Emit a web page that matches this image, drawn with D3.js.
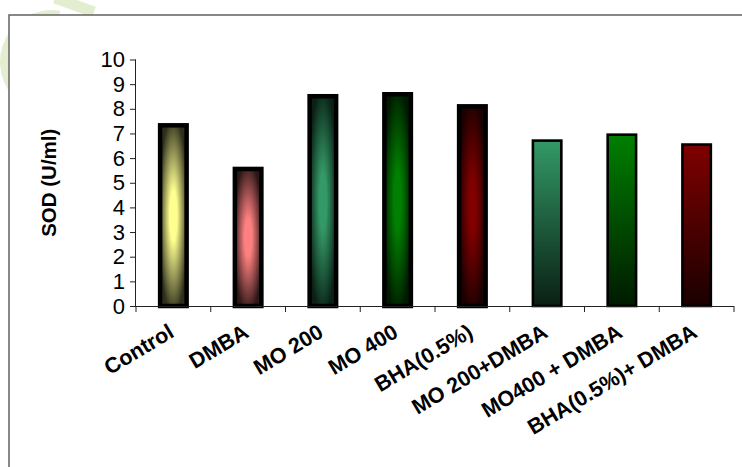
<!DOCTYPE html>
<html>
<head>
<meta charset="utf-8">
<script src="https://cdn.jsdelivr.net/npm/d3@7"></script>
<style>
  html, body { margin: 0; padding: 0; background: #ffffff; overflow: hidden; }
  svg { display: block; }
  text { font-family: "Liberation Sans", Arial, sans-serif; fill: #000; }
</style>
</head>
<body>
<script>
// ---- data ----
const categories = ["Control", "DMBA", "MO 200", "MO 400", "BHA(0.5%)", "MO 200+DMBA", "MO400 + DMBA", "BHA(0.5%)+ DMBA"];
const values = [7.33, 5.56, 8.51, 8.59, 8.10, 6.71, 6.95, 6.55];
const yTicks = [0, 1, 2, 3, 4, 5, 6, 7, 8, 9, 10];
const yLabel = "SOD (U/ml)";
// fill styles per bar
const lightColors = ["#ffff90", "#ff8080", "#339966", "#008000", "#800000", "#339966", "#008000", "#800000"];
const darkColors  = ["#2e2e1c", "#2e1717", "#0a2015", "#001a00", "#1a0000", "#0a1f14", "#001a00", "#1a0000"];
const gradientKinds = ["center", "center", "center", "center", "center", "vertical", "vertical", "vertical"];
const borderWidths = [4.5, 4.5, 4.5, 4.5, 4.5, 2.6, 2.6, 2.6];

// ---- layout ----
const W = 742, H = 467;
const svg = d3.select("body").append("svg").attr("width", W).attr("height", H);
const defs = svg.append("defs");

// faint watermark at the top-left (outside the chart frame)
const wmColor = "#e2eecf";
svg.append("path").attr("d", d3.arc()({innerRadius: 40, outerRadius: 52, startAngle: -Math.PI * 0.85, endAngle: Math.PI * 0.05}))
  .attr("transform", "translate(52,62)").attr("fill", wmColor);
svg.append("line").attr("x1", 55).attr("y1", -2).attr("x2", 94).attr("y2", 12)
  .attr("stroke", wmColor).attr("stroke-width", 11);

// chart frame
svg.append("rect").attr("x", 9).attr("y", 15).attr("width", 800).attr("height", 500)
  .attr("fill", "#ffffff").attr("stroke", "#6b6b6b").attr("stroke-width", 1.6);

const x = d3.scaleBand().domain(categories).range([136, 734]).padding(0);
const y = d3.scaleLinear().domain([0, 10]).range([306, 59.5]);

// gradients
categories.forEach((c, i) => {
  let g;
  if (gradientKinds[i] === "center") {
    g = defs.append("radialGradient").attr("id", "grad" + i)
      .attr("cx", "50%").attr("cy", "50%").attr("r", "55%").attr("fx", "50%").attr("fy", "50%");
    g.append("stop").attr("offset", "0%").attr("stop-color", lightColors[i]);
    g.append("stop").attr("offset", "25%").attr("stop-color", lightColors[i]);
    g.append("stop").attr("offset", "100%").attr("stop-color", darkColors[i]);
  } else {
    g = defs.append("linearGradient").attr("id", "grad" + i)
      .attr("x1", 0).attr("y1", 0).attr("x2", 0).attr("y2", 1);
    g.append("stop").attr("offset", "0%").attr("stop-color", lightColors[i]);
    g.append("stop").attr("offset", "100%").attr("stop-color", darkColors[i]);
  }
});

// bars
const outerFrac = 0.415;
svg.append("g").selectAll("rect").data(categories).join("rect")
  .attr("x", (d, i) => x(d) + x.bandwidth() / 2 - (x.bandwidth() * outerFrac - borderWidths[i]) / 2)
  .attr("width", (d, i) => x.bandwidth() * outerFrac - borderWidths[i])
  .attr("y", (d, i) => y(values[i]))
  .attr("height", (d, i) => y(0) - y(values[i]))
  .attr("fill", (d, i) => `url(#grad${i})`)
  .attr("stroke", "#000").attr("stroke-width", (d, i) => borderWidths[i]);

// y axis
const yAxis = svg.append("g").attr("transform", "translate(136,0)")
  .call(d3.axisLeft(y).tickValues(yTicks).tickSize(6).tickPadding(5).tickFormat(d3.format("d")));
yAxis.select(".domain").attr("stroke", "#222").attr("d", `M-0.5,${y(10)}V${y(0)}`);
yAxis.selectAll(".tick line").attr("stroke", "#222");
yAxis.selectAll(".tick text").attr("font-size", 22).attr("fill", "#000")
  .style("font-family", '"Liberation Sans", Arial, sans-serif');

// x axis
const xAxisG = svg.append("g").attr("transform", `translate(0,${y(0)})`);
xAxisG.append("line").attr("x1", 136).attr("x2", 734).attr("y1", 0.5).attr("y2", 0.5).attr("stroke", "#222");
const boundaries = categories.map(c => x(c)).concat([x.range()[1]]);
xAxisG.selectAll("line.tk").data(boundaries).join("line").attr("class", "tk")
  .attr("x1", d => d).attr("x2", d => d).attr("y1", 0).attr("y2", 6).attr("stroke", "#222");
xAxisG.selectAll("text").data(categories).join("text")
  .attr("text-anchor", "end")
  .attr("font-size", 21.5).attr("font-weight", "bold")
  .attr("transform", d => `translate(${x(d) + x.bandwidth() / 2 + 2},30) rotate(-31)`)
  .text(d => d);

// y label
svg.append("text").attr("text-anchor", "middle").attr("font-size", 20.5).attr("font-weight", "bold")
  .attr("transform", `translate(56,${(y(0) + y(10)) / 2}) rotate(-90)`)
  .text(yLabel);
</script>
</body>
</html>
